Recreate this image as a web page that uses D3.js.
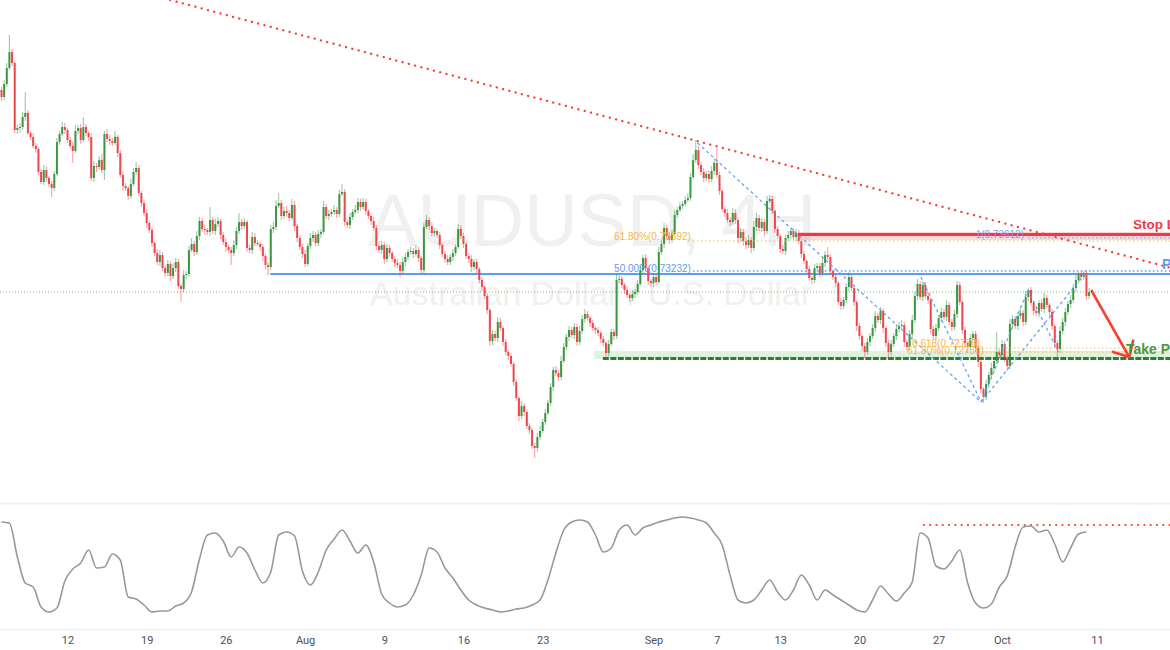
<!DOCTYPE html>
<html><head><meta charset="utf-8">
<script src="https://cdn.jsdelivr.net/npm/d3@7"></script>
<style>html,body{margin:0;padding:0;background:#fff;overflow:hidden}</style>
</head><body>
<svg id="c" width="1170" height="650"></svg>
<script>
// ---------------- DATA ----------------
const firstOpen = 0.7506;
const closes = [
0.7499,0.7512,0.7528,0.7544,0.7533,0.7466,0.7468,0.7469,0.7479,0.7483,0.7463,0.7459,0.7450,0.7447,0.7424,0.7414,0.7426,0.7418,0.7412,0.7408,
0.7422,0.7454,0.7462,0.7469,0.7466,0.7456,0.7450,0.7445,0.7465,0.7468,0.7456,0.7469,0.7463,0.7459,0.7418,0.7430,0.7429,0.7436,0.7426,0.7462,
0.7457,0.7455,0.7453,0.7459,0.7443,0.7421,0.7410,0.7408,0.7400,0.7412,0.7424,0.7428,0.7403,0.7393,0.7383,0.7373,0.7366,0.7353,0.7343,0.7334,
0.7341,0.7328,0.7323,0.7332,0.7320,0.7328,0.7334,0.7310,0.7307,0.7321,0.7322,0.7346,0.7352,0.7344,0.7360,0.7375,0.7367,0.7366,0.7364,0.7376,
0.7365,0.7372,0.7375,0.7361,0.7354,0.7349,0.7346,0.7343,0.7351,0.7365,0.7374,0.7370,0.7374,0.7348,0.7346,0.7359,0.7353,0.7352,0.7349,0.7340,
0.7331,0.7329,0.7367,0.7369,0.7390,0.7393,0.7380,0.7385,0.7383,0.7378,0.7391,0.7370,0.7358,0.7349,0.7342,0.7332,0.7350,0.7358,0.7361,0.7353,
0.7362,0.7364,0.7389,0.7380,0.7382,0.7384,0.7386,0.7382,0.7402,0.7404,0.7374,0.7371,0.7379,0.7384,0.7386,0.7394,0.7389,0.7394,0.7385,0.7380,
0.7375,0.7368,0.7350,0.7346,0.7351,0.7337,0.7348,0.7343,0.7337,0.7333,0.7331,0.7325,0.7334,0.7339,0.7344,0.7345,0.7342,0.7346,0.7338,0.7326,
0.7369,0.7376,0.7370,0.7363,0.7365,0.7361,0.7351,0.7342,0.7337,0.7334,0.7339,0.7343,0.7349,0.7367,0.7360,0.7352,0.7340,0.7337,0.7329,0.7334,
0.7327,0.7316,0.7309,0.7300,0.7286,0.7255,0.7262,0.7258,0.7274,0.7268,0.7254,0.7244,0.7240,0.7232,0.7214,0.7198,0.7180,0.7190,0.7184,0.7170,
0.7166,0.7150,0.7148,0.7159,0.7165,0.7174,0.7183,0.7193,0.7209,0.7226,0.7223,0.7219,0.7235,0.7249,0.7259,0.7266,0.7261,0.7269,0.7254,0.7265,
0.7277,0.7282,0.7278,0.7273,0.7268,0.7266,0.7263,0.7257,0.7253,0.7243,0.7252,0.7264,0.7260,0.7316,0.7317,0.7311,0.7306,0.7301,0.7298,0.7302,
0.7304,0.7312,0.7326,0.7338,0.7328,0.7315,0.7313,0.7319,0.7314,0.7344,0.7352,0.7368,0.7360,0.7356,0.7362,0.7381,0.7386,0.7390,0.7392,0.7396,
0.7398,0.7419,0.7436,0.7446,0.7431,0.7424,0.7418,0.7422,0.7417,0.7425,0.7433,0.7421,0.7405,0.7387,0.7383,0.7376,0.7374,0.7383,0.7376,0.7358,
0.7364,0.7355,0.7351,0.7356,0.7348,0.7369,0.7378,0.7368,0.7374,0.7365,0.7395,0.7397,0.7385,0.7367,0.7360,0.7347,0.7345,0.7358,0.7361,0.7365,
0.7359,0.7363,0.7355,0.7342,0.7335,0.7327,0.7318,0.7316,0.7328,0.7330,0.7323,0.7333,0.7341,0.7339,0.7325,0.7319,0.7313,0.7294,0.7290,0.7296,
0.7309,0.7319,0.7308,0.7294,0.7270,0.7260,0.7250,0.7244,0.7254,0.7260,0.7268,0.7280,0.7276,0.7285,0.7268,0.7253,0.7244,0.7252,0.7260,0.7267,
0.7270,0.7271,0.7254,0.7249,0.7262,0.7276,0.7300,0.7312,0.7299,0.7311,0.7300,0.7296,0.7267,0.7260,0.7268,0.7278,0.7284,0.7279,0.7291,0.7274,
0.7269,0.7282,0.7311,0.7294,0.7266,0.7253,0.7249,0.7258,0.7262,0.7248,0.7234,0.7207,0.7199,0.7212,0.7221,0.7228,0.7235,0.7244,0.7241,0.7252,
0.7238,0.7230,0.7272,0.7277,0.7270,0.7280,0.7283,0.7274,0.7299,0.7306,0.7293,0.7285,0.7283,0.7293,0.7287,0.7298,0.7291,0.7284,0.7270,0.7253,
0.7247,0.7265,0.7274,0.7284,0.7292,0.7296,0.7308,0.7316,0.7322,0.7319,0.7323,0.7300,0.7304
];
// wick lengths beyond the body, in pips
const upperWick = [
3,4,5,17,3,2,3,4,5,21,3,2,4,3,2,3,5,3,2,3,
3,4,3,5,4,2,3,4,6,3,4,10,3,2,4,5,3,4,6,3,
5,4,3,6,2,3,4,3,2,5,4,6,3,2,3,4,2,3,2,4,
5,3,2,4,3,5,4,3,2,5,3,4,6,3,5,4,3,4,2,13,
3,5,4,2,3,4,2,3,5,4,9,3,4,2,3,5,4,3,2,3,
2,3,4,5,6,10,3,4,5,3,6,4,2,3,3,4,3,5,4,3,
4,3,6,3,4,3,5,3,4,8,3,2,4,3,5,4,3,4,3,2,
3,4,3,5,4,3,4,3,2,3,4,3,5,4,3,4,3,5,3,2,
4,5,3,4,3,2,3,2,3,4,3,4,3,5,4,3,2,3,4,3,
3,2,3,2,3,2,4,3,5,4,2,3,2,3,2,3,2,5,3,2,
3,2,3,4,5,3,4,3,4,3,4,3,5,4,3,4,3,4,3,5,
4,5,3,2,3,2,3,2,3,2,4,3,3,6,4,3,2,3,2,4,
3,4,5,3,4,3,2,4,3,5,4,5,3,2,4,5,3,4,3,4,
5,4,6,10,4,3,4,3,4,5,5,15,3,2,3,4,3,5,4,3,
4,3,4,5,3,6,5,3,4,3,5,4,3,2,3,2,4,3,4,3,
3,4,3,2,3,2,3,2,4,3,3,5,4,8,3,2,3,2,4,3,
4,5,3,3,2,3,2,3,4,3,4,5,3,4,3,2,3,4,3,5,
4,5,3,2,4,5,4,5,3,4,3,4,2,3,4,3,4,3,5,3,
3,4,4,3,2,3,2,4,3,3,2,3,2,4,3,5,4,20,3,4,
3,2,5,4,3,4,5,3,6,2,3,2,4,3,4,5,3,2,3,2,
3,5,4,4,3,5,4,5,2,3,2,3,4
];
const lowerWick = [
4,3,3,2,3,3,4,5,3,4,2,3,2,4,3,2,3,4,3,9,
3,2,3,2,4,3,3,12,2,3,4,2,3,4,3,4,5,3,3,10,
3,4,3,2,4,3,5,3,4,3,2,3,3,4,3,5,3,4,3,3,
4,3,4,3,5,3,4,3,13,3,4,3,2,4,3,4,3,5,3,4,
3,4,3,4,3,5,3,12,3,4,3,4,3,4,3,4,3,2,4,5,
4,8,3,4,3,2,4,3,4,3,2,5,4,3,4,3,2,3,4,3,
3,4,2,3,4,3,3,4,3,2,4,3,4,3,2,3,4,3,4,3,
4,3,4,3,4,5,3,4,3,4,3,6,3,4,3,3,4,3,4,4,
3,2,4,3,4,3,4,3,4,3,3,4,3,2,3,4,3,4,5,3,
4,3,4,3,4,5,4,3,4,3,4,3,4,3,4,3,5,3,4,3,
4,3,10,4,3,2,3,2,3,4,3,4,3,2,3,4,3,4,4,3,
3,4,3,4,3,4,3,4,3,5,3,2,4,3,4,3,4,3,4,3,
4,3,2,4,3,4,3,4,3,2,3,4,3,4,3,2,3,2,3,2,
2,3,2,3,4,3,4,3,4,3,4,3,4,3,4,3,4,3,4,5,
4,5,4,3,5,3,4,3,4,5,3,2,3,4,3,4,3,4,3,4,
3,4,3,4,3,4,3,4,3,3,4,3,4,3,4,3,4,3,4,3,
3,4,3,4,5,4,5,6,3,4,3,4,3,4,5,4,6,4,3,4,
3,4,5,4,3,4,3,4,3,4,3,4,5,3,4,3,4,3,4,3,
4,3,4,3,4,5,6,4,3,4,5,4,6,3,4,3,4,3,4,3,
4,5,3,4,3,4,3,4,3,4,3,4,3,4,3,4,3,4,4,5,
8,4,3,4,3,4,3,4,3,4,3,4,3
];
// oscillator, one reading every 3rd candle
const oscStep = 3;
const oscValues = [
93,92,58,32,28,8,3,7,34,46,52,65,47,48,61,55,18,16,10,3,
4,4,9,12,23,56,80,82,74,58,68,62,45,32,43,80,83,79,44,30,
43,65,76,85,74,62,70,53,21,12,8,10,20,40,67,63,47,37,25,15,
10,7,5,3,4,6,7,10,15,35,62,85,93,95,93,80,63,67,85,90,
80,87,90,93,95,97,98,97,95,92,82,70,40,15,12,15,25,35,23,15,
25,40,30,15,25,20,15,10,5,3,15,29,21,14,22,33,82,77,49,46,
54,65,32,12,7,11,28,39,68,88,89,83,85,71,53,67,81,83
];
const tickLabels = ["12","19","26","Aug","9","16","23","Sep","7","13","20","27","Oct","11"];
const tickIndex  = [25,55,85,115,145,175,205,247,271,295,325,355,379,415];

// drawings: [startIndex, price]
const resistanceLevel = [101.8, 0.7322];
const fib50Level   = [261.9, 0.7325];
const fib618Level  = [261.9, 0.7355];
const fibOneLevel  = [388.9, 0.7358];
const stopLossLevel = [301.7, 0.73615];
const stopLossZone  = [301.7, 0.7364, 0.7356];
const takeProfitLevel = [227.8, 0.72375];
const takeProfitZone  = [224.6, 0.7245, 0.7237];
const tpFibLevels = [[371.4, 0.7248], [371.4, 0.7244]];
const lastPrice = 0.7304;
const trendLine = [[63.9, 0.7596], [443.1, 0.7328]];
const patternSegments = [
  [[263.7, 0.7453], [371.1, 0.7194]],
  [[348.3, 0.7319], [371.1, 0.7194]],
  [[371.1, 0.7194], [388.9, 0.7306]],
  [[388.9, 0.7306], [400.3, 0.7244]],
  [[371.1, 0.7194], [410.9, 0.7324]]
];
const arrowLine = [[412.8, 0.7306], [427.2, 0.7239]];
const oscLevel = [349.4, 90];

// ---------------- CHART ----------------
const svg = d3.select('#c');
const x = d3.scaleLinear().domain([0, 415]).range([1.5, 1097]);
const y = d3.scaleLinear().domain([0.7596, 0.7096]).range([0, 500]);
const oy = d3.scaleLinear().domain([0, 100]).range([615, 515]);
const xEnd = x.invert(1172);
const FONT = "Liberation Sans, Arial, sans-serif";
const GREEN = '#3a9840', RED = '#f0464e', BLUE = '#5b9cf6', ORANGE = '#f7b544';

svg.append('rect').attr('width', 1170).attr('height', 650).attr('fill', '#fff');
const defs = svg.append('defs');
defs.append('clipPath').attr('id', 'mainClip').append('rect')
  .attr('x', 0).attr('y', 0).attr('width', 1170).attr('height', 502);
defs.append('clipPath').attr('id', 'oscClip').append('rect')
  .attr('x', 0).attr('y', 504).attr('width', 1170).attr('height', 124);

const main = svg.append('g').attr('clip-path', 'url(#mainClip)');

// watermark
main.append('text').attr('x', 592).attr('y', 246).attr('text-anchor', 'middle')
  .attr('font-family', FONT).attr('font-size', 74).attr('fill', '#f0f0f0').text('AUDUSD, 4H');
main.append('text').attr('x', 591).attr('y', 305).attr('text-anchor', 'middle')
  .attr('font-family', FONT).attr('font-size', 34).attr('fill', '#f0f0f0').text('Australian Dollar / U.S. Dollar');

function hline(g, idx, price, color, width, dash) {
  const l = g.append('line').attr('x1', x(idx)).attr('x2', x(xEnd))
    .attr('y1', y(price)).attr('y2', y(price))
    .attr('stroke', color).attr('stroke-width', width);
  if (dash) l.attr('stroke-dasharray', dash);
  return l;
}
// zones
main.append('rect').attr('x', x(stopLossZone[0])).attr('width', x(xEnd) - x(stopLossZone[0]))
  .attr('y', y(stopLossZone[1])).attr('height', y(stopLossZone[2]) - y(stopLossZone[1]))
  .attr('fill', 'rgba(242,54,69,0.2)');
main.append('rect').attr('x', x(takeProfitZone[0])).attr('width', x(xEnd) - x(takeProfitZone[0]))
  .attr('y', y(takeProfitZone[1])).attr('height', y(takeProfitZone[2]) - y(takeProfitZone[1]))
  .attr('fill', 'rgba(76,175,80,0.18)');

// last price
hline(main, 0, lastPrice, '#4caf50', 1, '1,2').attr('x1', 0).attr('opacity', 0.8);
// resistance
hline(main, resistanceLevel[0], resistanceLevel[1], BLUE, 2.2);

// candles
const candles = closes.map((c, i) => {
  const o = i === 0 ? firstOpen : closes[i - 1];
  return { i, o, c, h: Math.max(o, c) + upperWick[i] / 1e4, l: Math.min(o, c) - lowerWick[i] / 1e4 };
});
const cg = main.append('g');
cg.selectAll('line.w').data(candles).join('line').attr('class', 'w')
  .attr('x1', d => x(d.i)).attr('x2', d => x(d.i))
  .attr('y1', d => y(d.h)).attr('y2', d => y(d.l))
  .attr('stroke', d => d.c >= d.o ? GREEN : RED).attr('stroke-width', 1.1).attr('opacity', 0.5);
cg.selectAll('rect.b').data(candles).join('rect').attr('class', 'b')
  .attr('x', d => x(d.i) - 1).attr('width', 2)
  .attr('y', d => y(Math.max(d.o, d.c)))
  .attr('height', d => Math.max(1, Math.abs(y(d.o) - y(d.c))))
  .attr('fill', d => d.c >= d.o ? GREEN : RED);

// fib dotted levels
hline(main, fib50Level[0], fib50Level[1], BLUE, 1.6, '1.6,2.4');
hline(main, fib618Level[0], fib618Level[1], ORANGE, 1.2, '1.5,2.5');
hline(main, fibOneLevel[0], fibOneLevel[1], '#7a9fe0', 1.2, '1.5,2.5');
tpFibLevels.forEach(l => hline(main, l[0], l[1], ORANGE, 1.2, '1.5,2.5'));

// stop loss & take profit
hline(main, stopLossLevel[0], stopLossLevel[1], '#f23645', 3);
hline(main, takeProfitLevel[0], takeProfitLevel[1], '#2e7d32', 3, '6,1.5');

// pattern dashed lines
const lineGen = d3.line().x(d => x(d[0])).y(d => y(d[1]));
patternSegments.forEach(seg => main.append('path').attr('d', lineGen(seg))
  .attr('fill', 'none').attr('stroke', BLUE).attr('stroke-width', 1.2).attr('stroke-dasharray', '3,3'));

// trend line
main.append('path').attr('d', lineGen(trendLine)).attr('fill', 'none')
  .attr('stroke', '#f44336').attr('stroke-width', 2.3).attr('stroke-linecap', 'round')
  .attr('stroke-dasharray', '0.1,6.4');

// arrow
const a0 = [x(arrowLine[0][0]), y(arrowLine[0][1])], a1 = [x(arrowLine[1][0]), y(arrowLine[1][1])];
main.append('line').attr('x1', a0[0]).attr('y1', a0[1]).attr('x2', a1[0]).attr('y2', a1[1])
  .attr('stroke', '#f44336').attr('stroke-width', 2.6);
const ang = Math.atan2(a1[1] - a0[1], a1[0] - a0[0]);
[0.75, -0.75].forEach(s => {
  main.append('line').attr('x1', a1[0]).attr('y1', a1[1])
    .attr('x2', a1[0] - 17 * Math.cos(ang + s)).attr('y2', a1[1] - 17 * Math.sin(ang + s))
    .attr('stroke', '#f44336').attr('stroke-width', 2.6).attr('stroke-linecap', 'round');
});

// labels
function label(txt, xx, yy, color, size, anchor, weight) {
  main.append('text').attr('x', xx).attr('y', yy).attr('fill', color)
    .attr('font-family', FONT).attr('font-size', size).attr('text-anchor', anchor || 'start')
    .attr('font-weight', weight || 'normal').text(txt);
}
label('61.80%(0.73592)', x(fib618Level[0]) - 2, y(fib618Level[1]) - 1, ORANGE, 10, 'end');
label('50.00%(0.73232)', x(fib50Level[0]) - 2, y(fib50Level[1]) + 1, BLUE, 10, 'end');
label('1(0.73612)', 1024, y(fibOneLevel[1]), '#7a9fe0', 10, 'end');
label('0.618(0.72778)', x(tpFibLevels[0][0]) - 2, y(tpFibLevels[0][1]) - 1, ORANGE, 10, 'end');
label('61.80%(0.72739)', x(tpFibLevels[0][0]) + 2, y(tpFibLevels[1][1]) + 2, ORANGE, 10, 'end');
label('Stop Loss', 1133, y(stopLossLevel[1]) - 6, '#f23645', 13.5, 'start', 'bold');
label('Pivot', 1162, y(resistanceLevel[1]) - 5, BLUE, 14, 'start', 'bold');
label('Take Profit', 1126, y(takeProfitLevel[1]) - 5, '#4a9a3c', 14, 'start', 'bold');

// pane separators
svg.append('line').attr('x1', 0).attr('x2', 1170).attr('y1', 503.5).attr('y2', 503.5)
  .attr('stroke', '#eceef2').attr('stroke-width', 2);
svg.append('line').attr('x1', 0).attr('x2', 1170).attr('y1', 629.5).attr('y2', 629.5)
  .attr('stroke', '#eceef2').attr('stroke-width', 1.5);

// oscillator
const og = svg.append('g').attr('clip-path', 'url(#oscClip)');
og.append('line').attr('x1', x(oscLevel[0])).attr('x2', x(xEnd))
  .attr('y1', oy(oscLevel[1])).attr('y2', oy(oscLevel[1]))
  .attr('stroke', '#f44336').attr('stroke-width', 2.2).attr('stroke-linecap', 'round')
  .attr('stroke-dasharray', '0.1,6.2');
og.append('path').datum(oscValues)
  .attr('d', d3.line().x((d, k) => x(k * oscStep)).y(d => oy(d)).curve(d3.curveMonotoneX))
  .attr('fill', 'none').attr('stroke', '#9598a1').attr('stroke-width', 1.6);

// time axis
const axis = d3.axisBottom(x).tickValues(tickIndex).tickFormat((d, k) => tickLabels[k]).tickSize(0).tickPadding(6);
const ax = svg.append('g').attr('transform', 'translate(0,630)').call(axis);
ax.select('.domain').remove();
ax.selectAll('text').attr('font-family', 'Roboto, ' + FONT).attr('font-size', 11).attr('fill', '#4a4f5a');
</script>
</body></html>
